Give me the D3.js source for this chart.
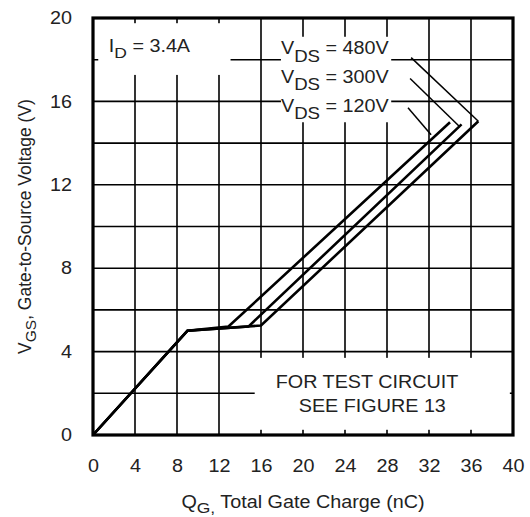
<!DOCTYPE html>
<html>
<head>
<meta charset="utf-8">
<script src="https://cdn.jsdelivr.net/npm/d3@7"></script>
<style>
  body { margin: 0; background: #fff; }
  text { font-family: "Liberation Sans", Arial, sans-serif; fill: #222; }
</style>
</head>
<body>
<div id="chart"></div>
<script>
// Tick values
const xTicks = [0, 4, 8, 12, 16, 20, 24, 28, 32, 36, 40];
const yTicks = [0, 4, 8, 12, 16, 20];
const yGrid = [2, 4, 6, 8, 10, 12, 14, 16, 18];
const xGrid = [4, 8, 12, 16, 20, 24, 28, 32, 36];

// Gate charge curves (Qg nC, Vgs V)
const curve120 = [[0, 0], [9, 5], [12.9, 5.2], [34.0, 15.0]];
const curve300 = [[0, 0], [9, 5], [14.8, 5.2], [35.1, 14.9]];
const curve480 = [[0, 0], [9, 5], [16.0, 5.25], [36.7, 15.05]];

// Leader lines from labels to curves
const leader120 = [[30.0, 15.7], [32.2, 14.4]];
const leader300 = [[30.2, 17.1], [34.9, 14.8]];
const leader480 = [[30.3, 18.1], [36.7, 15.05]];

const labels = ["480V", "300V", "120V"];

const margin = { left: 93, top: 18, right: 17, bottom: 82 };
const width = 420;
const height = 417;
const sx = 1.13; // horizontal stretch of the scanned lettering
const fs = 17.5;

const svg = d3.select("#chart").append("svg")
  .attr("width", 530)
  .attr("height", 517)
  .append("g")
  .attr("transform", `translate(${margin.left},${margin.top})`);

const x = d3.scaleLinear().domain([0, 40]).range([0, width]);
const y = d3.scaleLinear().domain([0, 20]).range([height, 0]);

// Grid lines
svg.append("g").selectAll("line").data(xGrid).enter().append("line")
  .attr("x1", d => x(d)).attr("x2", d => x(d))
  .attr("y1", 0).attr("y2", height)
  .attr("stroke", "#000").attr("stroke-width", 1.6);
svg.append("g").selectAll("line").data(yGrid).enter().append("line")
  .attr("x1", 0).attr("x2", width)
  .attr("y1", d => y(d)).attr("y2", d => y(d))
  .attr("stroke", "#000").attr("stroke-width", 1.6);

// White knock-out boxes behind annotations
const boxes = [
  [0.5, 13.1, 17.27, 19.75],
  [17.9, 28.4, 15.0, 19.1],
  [15.4, 39.7, 0.25, 3.7]
];
svg.append("g").selectAll("rect").data(boxes).enter().append("rect")
  .attr("x", d => x(d[0]))
  .attr("y", d => y(d[3]))
  .attr("width", d => x(d[1]) - x(d[0]))
  .attr("height", d => y(d[2]) - y(d[3]))
  .attr("fill", "#fff");

// Axes (labels only)
const xAxis = svg.append("g")
  .attr("transform", `translate(0,${height})`)
  .call(d3.axisBottom(x).tickValues(xTicks).tickSize(0).tickPadding(25));
const yAxis = svg.append("g")
  .call(d3.axisLeft(y).tickValues(yTicks).tickSize(0).tickPadding(21));
[xAxis, yAxis].forEach(a => {
  a.select(".domain").remove();
  a.selectAll("text").attr("font-size", fs).attr("fill", "#222")
    .style("font-family", "Liberation Sans, Arial, sans-serif");
});
xAxis.selectAll("text").attr("transform", `scale(${sx},1)`);
yAxis.selectAll("text").attr("x", 0).attr("transform", `translate(-21,0) scale(${sx},1)`);

// Border
svg.append("rect")
  .attr("x", 0).attr("y", 0).attr("width", width).attr("height", height)
  .attr("fill", "none").attr("stroke", "#000").attr("stroke-width", 3.2);

// Curves
const line = d3.line().x(d => x(d[0])).y(d => y(d[1]));
svg.append("g").selectAll("path").data([curve120, curve300, curve480]).enter()
  .append("path")
  .attr("d", line)
  .attr("fill", "none")
  .attr("stroke", "#000")
  .attr("stroke-width", 2.6)
  .attr("stroke-linejoin", "miter");

svg.append("g").selectAll("path").data([leader480, leader300, leader120]).enter()
  .append("path")
  .attr("d", line)
  .attr("fill", "none")
  .attr("stroke", "#000")
  .attr("stroke-width", 1.5);

// stretched horizontal text placed at a data position
function label(q, v, anchor) {
  return svg.append("g")
    .attr("transform", `translate(${x(q)},${y(v)}) scale(${sx},1)`)
    .append("text")
    .attr("text-anchor", anchor || "start")
    .attr("font-size", fs);
}

// I_D label
const id = label(1.5, 18.35);
id.append("tspan").text("I");
id.append("tspan").attr("dy", 6).attr("font-size", 15.5).text("D");
id.append("tspan").attr("dy", -6).text(" = 3.4A");

// V_DS labels
labels.forEach((lab, i) => {
  const t = label(17.9, 18.25 - i * 1.37);
  t.append("tspan").text("V");
  t.append("tspan").attr("dy", 7).attr("font-size", 16.5).text("DS");
  t.append("tspan").attr("dy", -7).text(" = " + lab);
});

// Test circuit note
label(26.1, 2.25, "middle").text("FOR TEST CIRCUIT");
label(26.6, 1.1, "middle").text("SEE FIGURE 13");

// Axis titles
const xt = svg.append("g")
  .attr("transform", `translate(${width / 2},${height + 73}) scale(${sx},1)`)
  .append("text")
  .attr("text-anchor", "middle").attr("font-size", fs);
xt.append("tspan").text("Q");
xt.append("tspan").attr("dy", 5).attr("font-size", 15.5).text("G,");
xt.append("tspan").attr("dy", -5).text(" Total Gate Charge (nC)");

const yt = svg.append("text")
  .attr("transform", `translate(${-margin.left + 31},${height / 2}) rotate(-90)`)
  .attr("text-anchor", "middle").attr("font-size", fs);
yt.append("tspan").text("V");
yt.append("tspan").attr("dy", 5).attr("font-size", 15.5).text("GS");
yt.append("tspan").attr("dy", -5).text(", Gate-to-Source Voltage (V)");
</script>
</body>
</html>
